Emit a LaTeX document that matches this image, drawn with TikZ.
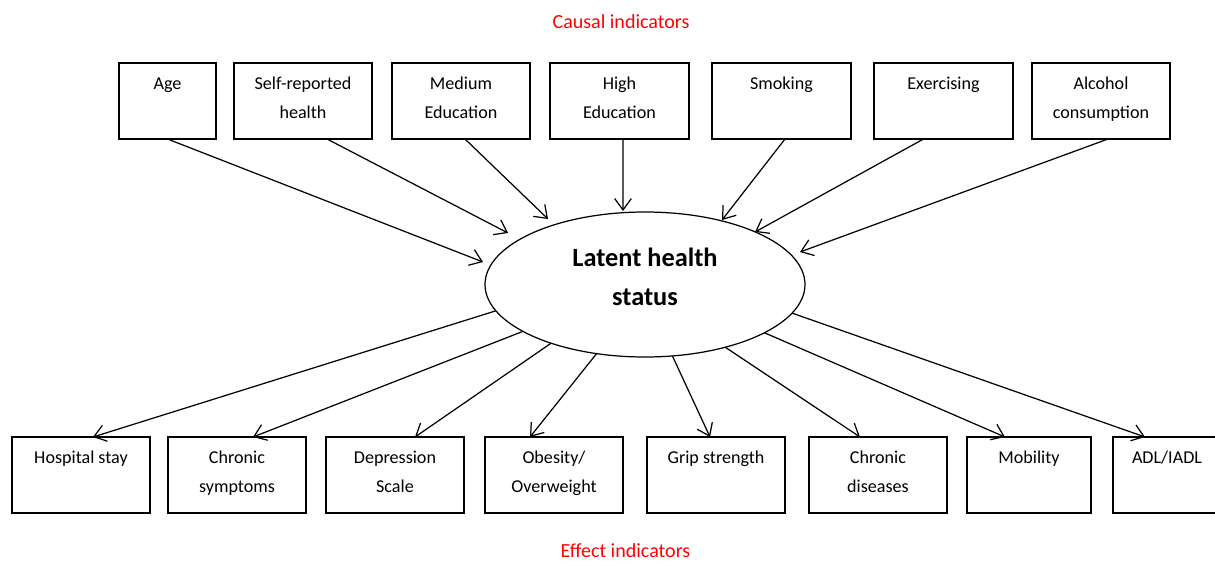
\documentclass[tikz,border=0pt]{standalone}
\usepackage{fontspec}
\setmainfont{Carlito}
\usetikzlibrary{arrows.meta,shapes.geometric}
\newlength\pu
\setlength\pu{0.02cm}
% text of an indicator box: first line near the top, fixed box height
\newcommand\bxtext[2][130]{\parbox[c][76\pu][t]{#1\pu}{\centering\fontsize{10.3pt}{29\pu}\selectfont\rule{0pt}{26\pu}#2\par}}
\begin{document}
\begin{tikzpicture}[x=0.02cm,y=-0.02cm,
  box/.style={draw, line width=0.8pt, inner sep=0pt, outer sep=0pt, minimum height=76\pu, minimum width=#1\pu},
  box/.default=138,
  arr/.style={line width=0.7pt, -{Straight Barb[length=6.5pt,width=9.5pt]}},
  heading/.style={text=red, inner sep=0pt, font=\fontsize{11.4pt}{14pt}\selectfont}]
\clip (0,0) rectangle (1215,562);

% headings
\node[heading] (causal) at (621,22) {Causal indicators};
\node[heading] (effect) at (625.5,551) {Effect indicators};

% latent variable
\node[draw, ellipse, line width=0.7pt, minimum width=320\pu, minimum height=145\pu,
      inner sep=0pt, outer sep=0pt, align=center,
      font=\bfseries\fontsize{15pt}{22pt}\selectfont,
      text height=41\pu, text depth=0pt] (lat) at (645,284.5) {Latent health\\status};

% causal indicators
\node[box=97] (age) at (167.5,101) {\bxtext[90]{Age}};
\node[box] (self) at (303,101) {\bxtext{Self-reported\\health}};
\node[box] (med) at (461,101) {\bxtext{Medium\\Education}};
\node[box=139] (high) at (619.5,101) {\bxtext{High\\Education}};
\node[box=139] (smok) at (781.5,101) {\bxtext{Smoking}};
\node[box=139] (exer) at (943.5,101) {\bxtext{Exercising}};
\node[box] (alc) at (1101,101) {\bxtext{Alcohol\\consumption}};

% effect indicators
\node[box] (hosp) at (81,475) {\bxtext{Hospital stay}};
\node[box] (csym) at (237,475) {\bxtext{Chronic\\symptoms}};
\node[box] (depr) at (395,475) {\bxtext{Depression\\Scale}};
\node[box] (obes) at (554,475) {\bxtext{Obesity/\\Overweight}};
\node[box] (grip) at (716,475) {\bxtext{Grip strength}};
\node[box] (cdis) at (878,475) {\bxtext{Chronic\\diseases}};
\node[box=124] (mobi) at (1029,475) {\bxtext[118]{Mobility}};
\node[box=108] (adl) at (1167,475) {\bxtext[100]{ADL/IADL}};

% arrow ends near the ellipse
\coordinate (tAge) at (483,262);
\coordinate (tSelf) at (508,233);
\coordinate (tMed) at (548,219);
\coordinate (tHigh) at (623,211);
\coordinate (tSmok) at (722,220);
\coordinate (tExer) at (755,232);
\coordinate (tAlc) at (800,252);

\draw[arr] (age.south) -- (tAge);
\draw[arr] ([xshift=24\pu]self.south) -- (tSelf);
\draw[arr] ([xshift=4\pu]med.south) -- (tMed);
\draw[arr] ([xshift=3.5\pu]high.south) -- (tHigh);
\draw[arr] ([xshift=3.5\pu]smok.south) -- (tSmok);
\draw[arr] ([xshift=-20\pu]exer.south) -- (tExer);
\draw[arr] ([xshift=7\pu]alc.south) -- (tAlc);

\draw[arr] (lat.190.8) -- ([xshift=12\pu]hosp.north);
\draw[arr] (lat.201.5) -- ([xshift=16\pu]csym.north);
\draw[arr] (lat.212.1) -- ([xshift=20\pu]depr.north);
\draw[arr] (lat.235.8) -- ([xshift=-24\pu]obes.north);
\draw[arr] (lat.291.1) -- ([xshift=-6\pu]grip.north);
\draw[arr] (lat.322.9) -- ([xshift=-18\pu]cdis.north);
\draw[arr] (lat.338.3) -- ([xshift=-24\pu]mobi.north);
\draw[arr] (lat.349.7) -- ([xshift=-22\pu]adl.north);
\end{tikzpicture}
\end{document}
